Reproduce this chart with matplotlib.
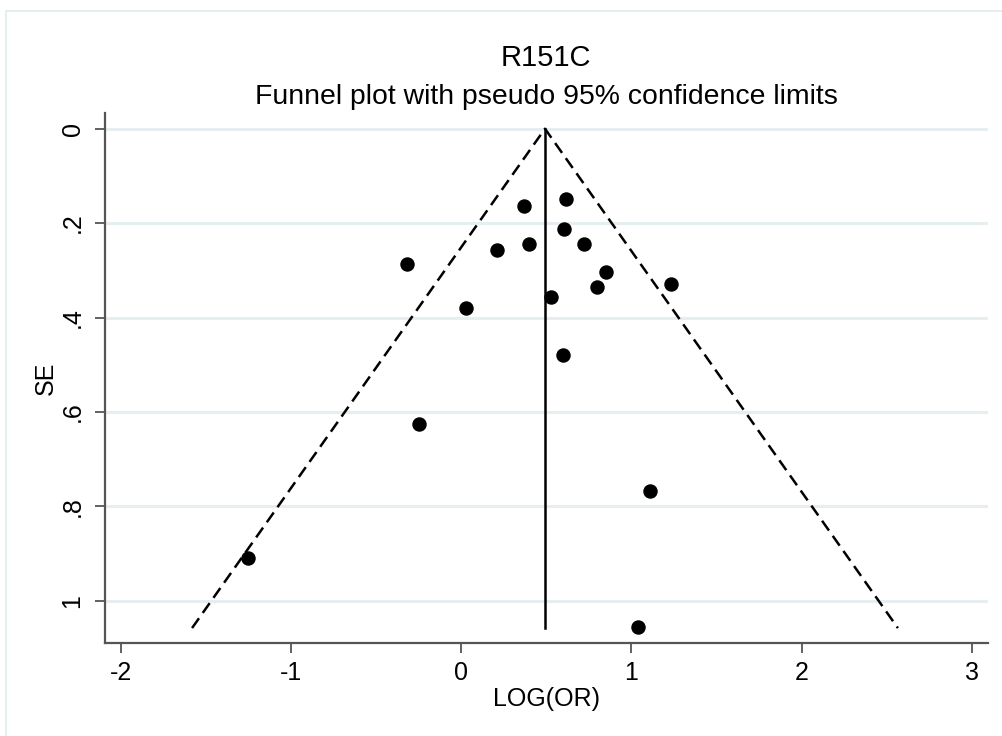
#!/usr/bin/env python
import matplotlib
matplotlib.use('Agg')
import matplotlib.pyplot as plt
from matplotlib.patches import Rectangle

plt.rcParams['font.family'] = ['Liberation Sans', 'DejaVu Sans']

# study estimates: log odds ratio and its standard error
log_or = [0.613, 0.368, 0.602, 0.396, 0.719, 0.208, 0.850, 0.797, 1.234,
          0.529, 0.026, 0.596, -0.317, -0.247, 1.109, -1.251, 1.040]
se = [0.148, 0.164, 0.213, 0.244, 0.244, 0.258, 0.304, 0.336, 0.330,
      0.356, 0.379, 0.480, 0.286, 0.626, 0.767, 0.909, 1.056]

# pooled estimate and largest SE used for the pseudo confidence limits
pooled = 0.492
se_max = 1.058
z = 1.96

x_ticks = [-2, -1, 0, 1, 2, 3]
y_ticks = [0, 0.2, 0.4, 0.6, 0.8, 1.0]
y_tick_labels = ['0', '.2', '.4', '.6', '.8', '1']

grid_col = '#e6eef1'
axis_col = '#555555'
fsize = 18


def figure(fname):
    fig = plt.figure(figsize=(10.02, 7.36), dpi=100)
    fig.patch.set_facecolor('white')

    # light frame round the graph region
    fig.patches.append(Rectangle((5.5 / 1002, -0.05), 1.2, 1 - 10.5 / 736 + 0.05,
                                 transform=fig.transFigure, fill=False,
                                 edgecolor=grid_col, linewidth=1.5))

    ax = fig.add_axes([0.1045, 0.1268, 0.8815, 0.7192])

    for t in y_ticks:
        ax.axhline(t, color=grid_col, linewidth=2.2, zorder=0)

    # funnel limits
    ax.plot([pooled - z * se_max, pooled, pooled + z * se_max], [se_max, 0, se_max],
            color='black', linestyle=(0, (4.8, 2.6)), linewidth=1.8, zorder=2)
    ax.plot([pooled, pooled], [0, se_max], color='black', linewidth=1.8, zorder=2)

    ax.plot(log_or, se, 'o', color='black', markersize=9.4, zorder=3)

    ax.set_xlim(-2.095, 3.095)
    ax.set_ylim(1.089, -0.0326)

    ax.set_xticks(x_ticks)
    ax.set_xticklabels([str(t) for t in x_ticks])
    ax.set_yticks(y_ticks)
    ax.set_yticklabels(y_tick_labels, rotation=90, va='center')

    for side in ['top', 'right']:
        ax.spines[side].set_visible(False)
    for side in ['left', 'bottom']:
        ax.spines[side].set_color(axis_col)
        ax.spines[side].set_linewidth(1.6)
    ax.tick_params(axis='both', colors=axis_col, length=7.5, width=1.3,
                   labelsize=fsize, labelcolor='black')
    ax.tick_params(axis='x', pad=6)
    ax.tick_params(axis='y', pad=7)

    ax.set_xlabel('LOG(OR)', fontsize=fsize, labelpad=1)
    ax.set_ylabel('SE', fontsize=fsize, labelpad=2)

    fig.text(546 / 1002, 1 - 66 / 736, 'R151C', ha='center', va='baseline', fontsize=21)
    fig.text(546 / 1002, 1 - 103.5 / 736, 'Funnel plot with pseudo 95% confidence limits',
             ha='center', va='baseline', fontsize=20.4)

    plt.savefig(fname, dpi=100, facecolor='white')


def main():
    figure('out.png')


if __name__ == "__main__":
    main()
